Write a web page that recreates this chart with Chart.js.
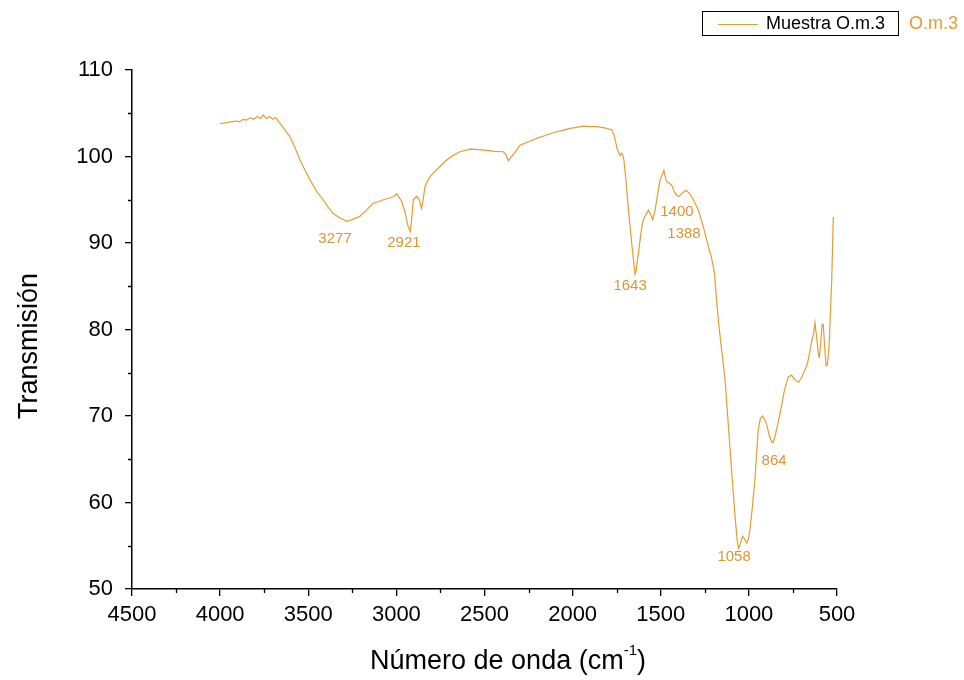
<!DOCTYPE html>
<html>
<head>
<meta charset="utf-8">
<title>Muestra O.m.3</title>
<script src="https://cdn.jsdelivr.net/npm/chart.js@4.4.0/dist/chart.umd.min.js"></script>
<style>
    html, body { margin: 0; padding: 0; background: #fff; }
    #wrap { width: 964px; height: 680px; }
</style>
</head>
<body>
<div id="wrap"><canvas id="grafico" width="964" height="680"></canvas></div>
<script>
// Espectro (número de onda en cm-1, transmisión)
const numeroOnda = [
    4000, 3970, 3940, 3910, 3890, 3870, 3850, 3830, 3810, 3790, 3770, 3755, 3740, 3720, 3700, 3685, 3670, 3651,
    3630, 3604, 3575, 3547, 3520, 3490, 3450, 3415, 3385, 3358, 3320, 3282, 3250, 3206, 3170, 3131, 3100, 3074,
    3040, 3017, 2998, 2985, 2970, 2950, 2935, 2921, 2912, 2904, 2885, 2870, 2857, 2848, 2838, 2815, 2790, 2750,
    2715, 2680, 2639, 2582, 2530, 2488, 2440, 2393, 2378, 2365, 2350, 2337, 2299, 2250, 2204, 2160, 2110, 2060,
    2015, 1970, 1939, 1900, 1864, 1820, 1778, 1765, 1746, 1731, 1722, 1716, 1709, 1694, 1684, 1665, 1646, 1640,
    1627, 1610, 1599, 1570, 1557, 1546, 1532, 1515, 1504, 1482, 1473, 1466, 1451, 1438, 1425, 1410, 1395, 1381,
    1357, 1340, 1324, 1305, 1287, 1260, 1239, 1211, 1195, 1186, 1175, 1164, 1135, 1108, 1080, 1066, 1058, 1048,
    1036, 1025, 1013, 1005, 994, 980, 966, 955, 947, 935, 922, 910, 899, 885, 871, 864, 852, 838, 823, 800,
    776, 757, 740, 719, 705, 691, 672, 663, 644, 632, 625, 615, 605, 600, 592, 585, 578, 570, 562, 555, 545,
    530, 524, 521
];
const transmision = [
    103.8, 103.9, 104.0, 104.1, 104.0, 104.3, 104.2, 104.5, 104.3, 104.6, 104.4, 104.8, 104.4, 104.6, 104.3, 104.5, 104.1, 103.6,
    103.0, 102.3, 101.0, 99.6, 98.5, 97.3, 95.9, 95.0, 94.1, 93.4, 92.9, 92.5, 92.7, 93.1, 93.8, 94.6, 94.8, 95.0,
    95.2, 95.35, 95.7, 95.3, 94.8, 93.5, 92.0, 91.3, 93.0, 95.0, 95.4, 95.0, 94.0, 95.0, 96.5, 97.5, 98.1, 98.9,
    99.6, 100.1, 100.55, 100.85, 100.8, 100.7, 100.6, 100.55, 100.2, 99.5, 99.9, 100.2, 101.3, 101.7, 102.1, 102.4, 102.75, 103.0,
    103.25, 103.4, 103.5, 103.45, 103.45, 103.3, 103.1, 102.5, 100.8, 100.1, 100.4, 100.2, 99.6, 96.5, 94.0, 90.0, 86.4, 86.8,
    88.8, 91.5, 92.7, 93.8, 93.3, 92.7, 93.8, 96.0, 97.3, 98.4, 97.5, 97.1, 96.9, 96.7, 96.0, 95.5, 95.4, 95.7,
    96.1, 95.8, 95.35, 94.6, 93.8, 92.0, 90.3, 88.2, 86.5, 84.0, 81.5, 79.3, 74.2, 66.5, 58.8, 55.5, 54.7, 55.3,
    56.1, 55.8, 55.3, 55.6, 56.8, 59.5, 62.6, 66.0, 68.4, 69.7, 70.0, 69.6, 69.0, 67.8, 67.0, 66.9, 67.6, 68.9, 70.3, 72.8,
    74.55, 74.7, 74.2, 73.9, 74.3, 74.9, 75.8, 76.5, 78.6, 79.6, 80.8, 79.0, 77.0, 76.8, 78.5, 80.6, 80.6, 78.0, 75.8, 75.9, 78.0,
    85.7, 90.5, 93.0
];

// Marcas menores de los ejes
const xMenores = [4250, 3750, 3250, 2750, 2250, 1750, 1250, 750];
const yMenores = [55, 65, 75, 85, 95, 105];

// Picos anotados y donde va cada etiqueta
const picos = ['3277', '2921', '1643', '1400', '1388', '1058', '864'];
const picosX = [3348, 2957, 1674, 1408, 1368, 1084, 857];
const picosY = [90.5, 90.0, 85.1, 93.6, 91.0, 53.7, 64.8];

const naranja = '#E59C31';
const fuente = '"Liberation Sans", Arial, sans-serif';

const extras = {
    id: 'extras',
    afterDraw(chart) {
        const ctx = chart.ctx;
        const x = chart.scales.x;
        const y = chart.scales.y;
        ctx.save();

        // marcas menores
        ctx.strokeStyle = '#000';
        ctx.lineWidth = 1.3;
        ctx.beginPath();
        xMenores.forEach(v => {
            const px = Math.round(x.getPixelForValue(v)) + 0.5;
            ctx.moveTo(px, y.bottom);
            ctx.lineTo(px, y.bottom + 4);
        });
        yMenores.forEach(v => {
            const py = Math.round(y.getPixelForValue(v)) + 0.5;
            ctx.moveTo(x.left, py);
            ctx.lineTo(x.left - 4, py);
        });
        ctx.stroke();

        // etiquetas de picos
        ctx.fillStyle = '#DC9633';
        ctx.font = '15px ' + fuente;
        ctx.textAlign = 'center';
        ctx.textBaseline = 'middle';
        picos.forEach((t, i) => {
            ctx.fillText(t, x.getPixelForValue(picosX[i]), y.getPixelForValue(picosY[i]));
        });

        // título eje Y
        ctx.fillStyle = '#000';
        ctx.font = '27px ' + fuente;
        ctx.save();
        ctx.translate(30, 346);
        ctx.rotate(-Math.PI / 2);
        ctx.fillText('Transmisión', 0, 0);
        ctx.restore();

        // título eje X con superíndice
        const base = 'Número de onda (cm';
        ctx.font = '27px ' + fuente;
        const w1 = ctx.measureText(base).width;
        const w3 = ctx.measureText(')').width;
        ctx.font = '15px ' + fuente;
        const w2 = ctx.measureText('-1').width;
        let sx = 508 - (w1 + w2 + w3) / 2;
        ctx.textAlign = 'left';
        ctx.font = '27px ' + fuente;
        ctx.fillText(base, sx, 662);
        ctx.font = '15px ' + fuente;
        ctx.fillText('-1', sx + w1, 651);
        ctx.font = '27px ' + fuente;
        ctx.fillText(')', sx + w1 + w2, 662);

        // leyenda
        ctx.strokeStyle = '#000';
        ctx.lineWidth = 1;
        ctx.strokeRect(702.5, 11.5, 196, 24);
        ctx.strokeStyle = naranja;
        ctx.beginPath();
        ctx.moveTo(718, 24.5);
        ctx.lineTo(758, 24.5);
        ctx.stroke();
        ctx.font = '18px ' + fuente;
        ctx.fillStyle = '#000';
        ctx.fillText('Muestra O.m.3', 766, 24);
        ctx.fillStyle = naranja;
        ctx.fillText('O.m.3', 909, 24);

        ctx.restore();
    }
};

const ctx = document.getElementById('grafico').getContext('2d');
const chart = new Chart(ctx, {
    type: 'line',
    data: {
        datasets: [{
            label: 'Muestra O.m.3',
            data: numeroOnda.map((v, i) => ({ x: v, y: transmision[i] })),
            borderColor: naranja,
            borderWidth: 1.2,
            pointRadius: 0,
            tension: 0,
            fill: false
        }]
    },
    options: {
        responsive: false,
        devicePixelRatio: 1,
        animation: false,
        layout: { padding: { top: 70, right: 127, left: 0, bottom: 0 } },
        scales: {
            x: {
                type: 'linear',
                reverse: true,
                min: 500,
                max: 4500,
                afterFit: s => { s.height = 91; },
                ticks: {
                    stepSize: 500,
                    padding: 6,
                    color: '#000',
                    font: { family: fuente, size: 22 },
                    maxRotation: 0,
                    callback: v => String(v)
                },
                grid: { display: true, drawOnChartArea: false, drawTicks: true, tickLength: 7, color: '#000', lineWidth: 1.3 },
                border: { display: true, color: '#000', width: 1.5 }
            },
            y: {
                min: 50,
                max: 110,
                afterFit: s => { s.width = 132; },
                ticks: {
                    stepSize: 10,
                    padding: 12,
                    color: '#000',
                    font: { family: fuente, size: 22 },
                    callback: v => String(v)
                },
                grid: { display: true, drawOnChartArea: false, drawTicks: true, tickLength: 7, color: '#000', lineWidth: 1.3 },
                border: { display: true, color: '#000', width: 1.5 }
            }
        },
        plugins: {
            legend: { display: false },
            tooltip: { enabled: false }
        }
    },
    plugins: [extras]
});
</script>
</body>
</html>
